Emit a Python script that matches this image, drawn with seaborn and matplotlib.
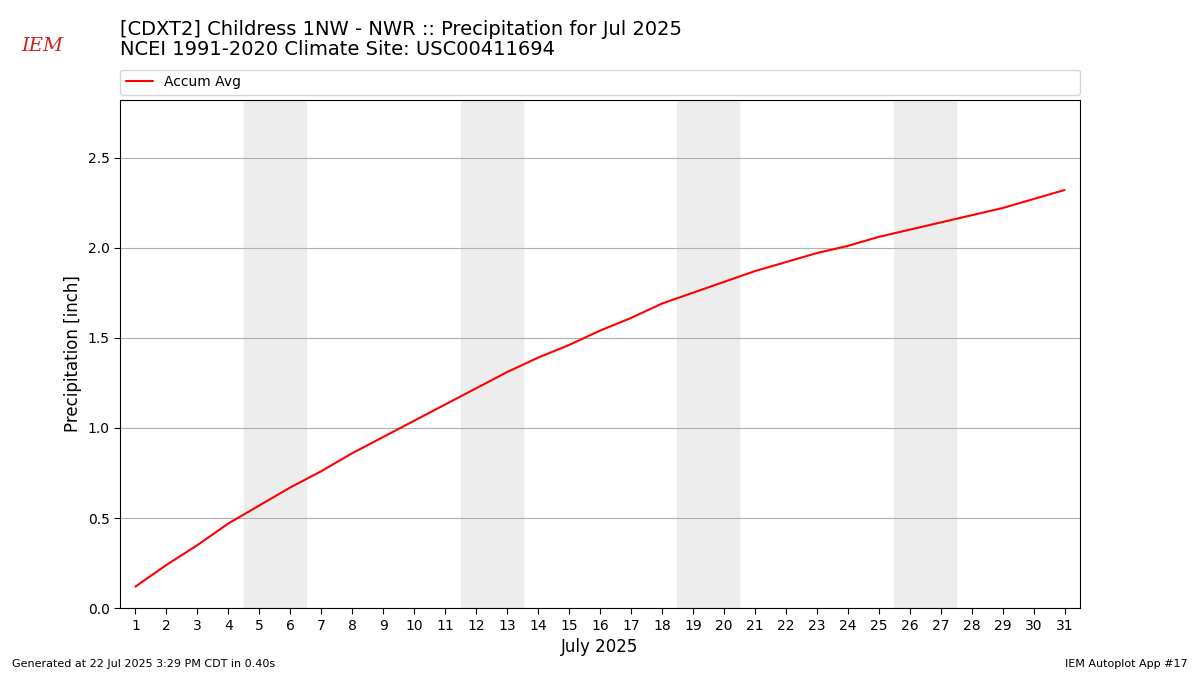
import matplotlib
matplotlib.use("Agg")
import matplotlib.pyplot as plt
import seaborn as sns
import pandas as pd

days = list(range(1, 32))
accum_avg = [0.12, 0.24, 0.35, 0.47, 0.57, 0.67, 0.76, 0.86, 0.95, 1.04, 1.13,
             1.22, 1.31, 1.39, 1.46, 1.54, 1.61, 1.69, 1.75, 1.81, 1.87, 1.92,
             1.97, 2.01, 2.06, 2.10, 2.14, 2.18, 2.22, 2.27, 2.32]
weekend_starts = [5, 12, 19, 26]
title = "[CDXT2] Childress 1NW - NWR :: Precipitation for Jul 2025\nNCEI 1991-2020 Climate Site: USC00411694"

sns.set_style("white")
plt.rcParams['font.family'] = ['DejaVu Sans']
plt.rcParams.update({"text.color": "black", "axes.labelcolor": "black",
                     "xtick.color": "black", "ytick.color": "black"})
df = pd.DataFrame({"day": days, "Accum Avg": accum_avg})

fig = plt.figure(figsize=(12, 6.75), dpi=100)
ax = fig.add_axes([0.1, 0.099, 0.8, 0.753])
for s in weekend_starts:
    ax.axvspan(s - 0.5, s + 1.5, color="#ededed", zorder=0)
sns.lineplot(data=df, x="day", y="Accum Avg", color="red", ax=ax, label="Accum Avg", zorder=3)
ax.set_xlim(0.5, 31.5)
ax.set_ylim(0, 2.82)
ax.set_xticks(days)
ax.set_yticks([0, 0.5, 1.0, 1.5, 2.0, 2.5])
ax.yaxis.grid(True, color="#b0b0b0", lw=0.8)
ax.set_axisbelow(True)
for sp in ax.spines.values():
    sp.set_color("black"); sp.set_linewidth(0.8)
ax.tick_params(axis="both", length=4, labelsize=10, left=True, bottom=True)
ax.set_xlabel("July 2025", fontsize=12)
ax.set_ylabel("Precipitation [inch]", fontsize=12)
ax.legend(loc="lower left", bbox_to_anchor=(0, 1.01, 1, 0.05), mode="expand",
          frameon=True, fontsize=10, borderaxespad=0)
fig.text(0.1, 0.912, title, fontsize=14, va="bottom", linespacing=1.1)
fig.text(0.01, 0.012, "Generated at 22 Jul 2025 3:29 PM CDT in 0.40s", fontsize=8)
fig.text(0.99, 0.012, "IEM Autoplot App #17", fontsize=8, ha="right")
fig.text(0.018, 0.925, "IEM", fontsize=14, color="#cc2222", family="DejaVu Serif", style="italic")
fig.savefig("out.png", dpi=100)
